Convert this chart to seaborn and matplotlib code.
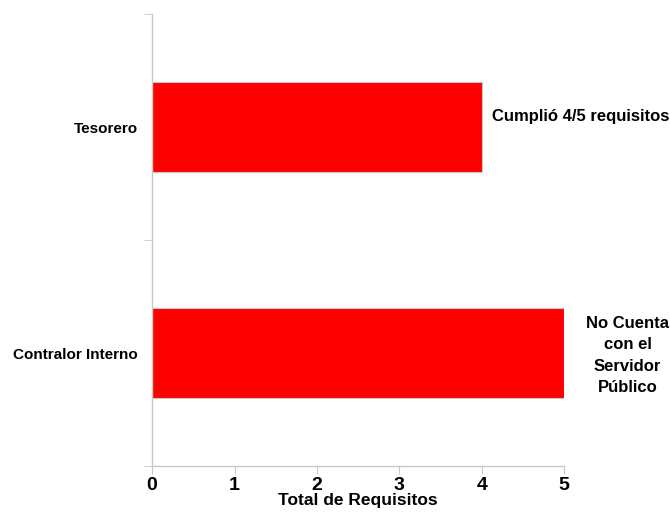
import matplotlib
matplotlib.use("Agg")
import matplotlib.pyplot as plt
import seaborn as sns

# data
puestos = ["Tesorero", "Contralor Interno"]
requisitos = [4, 5]
notas = ["Cumplió 4/5 requisitos", "No Cuenta\ncon el\nServidor\nPúblico"]
x_ticks = [0, 1, 2, 3, 4, 5]

sns.set_style("white")
plt.rcParams['font.family'] = ['Liberation Sans', 'DejaVu Sans']
plt.rcParams['text.color'] = 'black'
plt.rcParams['axes.labelcolor'] = 'black'
plt.rcParams['xtick.labelcolor'] = 'black'
plt.rcParams['ytick.labelcolor'] = 'black'

fig = plt.figure(figsize=(6.7, 5.18), dpi=100)
ax = fig.add_axes([0.227, 0.1, 0.615, 0.873])

sns.barplot(x=requisitos, y=puestos, orient="h", color="#ff0000", saturation=1,
            width=0.4, edgecolor="#c8c8c8", linewidth=0.8, ax=ax)

ax.set_xlim(0, 5)
ax.set_ylim(1.5, -0.5)
ax.set_xticks(x_ticks)
ax.set_xticklabels([str(t) for t in x_ticks], fontsize=14, fontweight="bold")

# category labels at centers, tick marks at category boundaries
ax.set_yticks([0, 1])
ax.set_yticklabels(puestos, fontsize=11, fontweight="bold")
ax.tick_params(axis="y", length=0, pad=10, labelcolor="black")
ax.set_yticks([-0.5, 0.5, 1.5], minor=True)
ax.tick_params(axis="y", which="minor", length=6, color="#c8c8c8", direction="out", left=True)
ax.tick_params(axis="x", length=6, color="#c8c8c8", direction="out", bottom=True, pad=2,
               labelcolor="black")

ax.set_xlabel("Total de Requisitos", fontsize=12.5, fontweight="bold", labelpad=-1, color="black")
ax.set_ylabel("")

for s in ["top", "right"]:
    ax.spines[s].set_visible(False)
for s in ["left", "bottom"]:
    ax.spines[s].set_color("#c8c8c8")
    ax.spines[s].set_linewidth(1)

# annotations beside bars
ax.text(requisitos[0] + 0.12, 0 - 0.045, notas[0], ha="left", va="center",
        fontsize=12, fontweight="bold", color="black", clip_on=False)
ax.text(requisitos[1] + 0.77, 1 + 0.01, notas[1], ha="center", va="center",
        fontsize=12, fontweight="bold", color="black", linespacing=1.55, clip_on=False)

fig.savefig("out.png", dpi=100)
